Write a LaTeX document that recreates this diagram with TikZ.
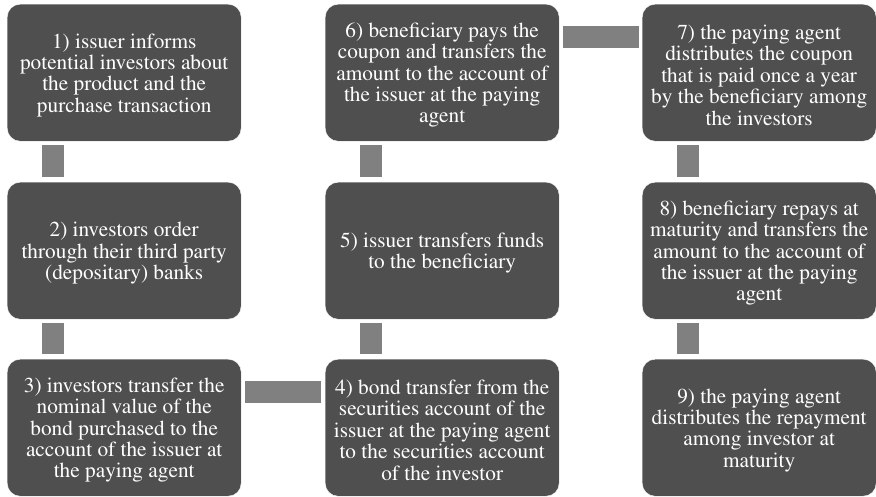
\documentclass[tikz,border=0pt]{standalone}
\usepackage[T1]{fontenc}
\usepackage{times}
\usetikzlibrary{calc}
\definecolor{boxgray}{HTML}{4F4F4F}
\definecolor{conngray}{HTML}{808080}
\begin{document}
\begin{tikzpicture}[x=1pt,y=-1pt,
  stepbox/.style={fill=boxgray, draw=white, line width=0.4pt, rounded corners=13pt,
    minimum width=234pt, minimum height=137pt, inner sep=0pt, anchor=north west},
  steptext/.style={text=white, align=center, inner sep=0pt, yshift=-2.5pt,
    font=\rmfamily\fontsize{21.3}{21.4}\selectfont},
  conn/.style={draw=conngray, line width=22pt, line cap=butt}]
\useasboundingbox (0,0) rectangle (876,496);
\node[stepbox] (b1) at (7,4) {};
\node[stepbox] (b2) at (7,182) {};
\node[stepbox] (b3) at (7,359) {};
\node[stepbox] (b4) at (325,359) {};
\node[stepbox] (b5) at (325,182) {};
\node[stepbox] (b6) at (325,4) {};
\node[stepbox] (b7) at (642,4) {};
\node[stepbox] (b8) at (642,182) {};
\node[stepbox] (b9) at (642,359) {};
\node[steptext] (t1) at (b1.center) {1) issuer informs\\potential investors about\\the product and the\\purchase transaction};
\node[steptext] (t2) at (b2.center) {2) investors order\\through their third party\\(depositary) banks};
\node[steptext] (t3) at (b3.center) {3) investors transfer the\\nominal value of the\\bond purchased to the\\account of the issuer at\\the paying agent};
\node[steptext] (t4) at (b4.center) {4) bond transfer from the\\securities account of the\\issuer at the paying agent\\to the securities account\\of the investor};
\node[steptext] (t5) at (b5.center) {5) issuer transfers funds\\to the beneficiary};
\node[steptext] (t6) at (b6.center) {6) beneficiary pays the\\coupon and transfers the\\amount to the account of\\the issuer at the paying\\agent};
\node[steptext] (t7) at (b7.center) {7) the paying agent\\distributes the coupon\\that is paid once a year\\by the beneficiary among\\the investors};
\node[steptext] (t8) at (b8.center) {8) beneficiary repays at\\maturity and transfers the\\amount to the account of\\the issuer at the paying\\agent};
\node[steptext] (t9) at (b9.center) {9) the paying agent\\distributes the repayment\\among investor at\\maturity};
% vertical connectors
\draw[conn] ($(b1.south west)+(46,4)$) -- ($(b2.north west)+(46,-5)$);
\draw[conn] ($(b2.south west)+(46,4)$) -- ($(b3.north west)+(46,-5)$);
\draw[conn] ($(b5.south west)+(46,4)$) -- ($(b4.north west)+(46,-5)$);
\draw[conn] ($(b6.south west)+(46,4)$) -- ($(b5.north west)+(46,-5)$);
\draw[conn] ($(b7.south west)+(46,4)$) -- ($(b8.north west)+(46,-5)$);
\draw[conn] ($(b8.south west)+(46,4)$) -- ($(b9.north west)+(46,-5)$);
% horizontal connectors
\draw[conn] ($(b3.north east)+(4,33)$) -- ($(b4.north west)+(-4,33)$);
\draw[conn] ($(b6.north east)+(4,33)$) -- ($(b7.north west)+(-3,33)$);
\end{tikzpicture}
\end{document}
